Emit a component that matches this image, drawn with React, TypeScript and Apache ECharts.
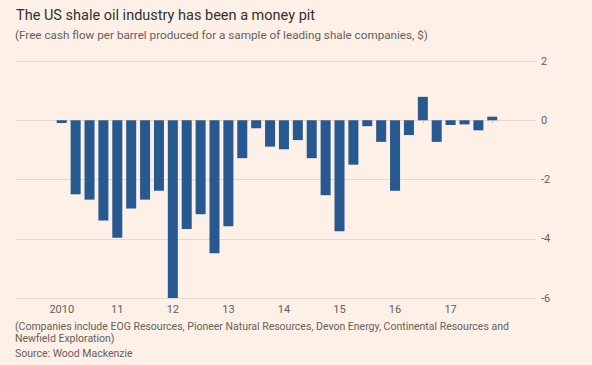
import React, { useEffect, useRef } from "react";
import * as echarts from "echarts";

const categories = [
  "2010 Q1","2010 Q2","2010 Q3","2010 Q4",
  "2011 Q1","2011 Q2","2011 Q3","2011 Q4",
  "2012 Q1","2012 Q2","2012 Q3","2012 Q4",
  "2013 Q1","2013 Q2","2013 Q3","2013 Q4",
  "2014 Q1","2014 Q2","2014 Q3","2014 Q4",
  "2015 Q1","2015 Q2","2015 Q3","2015 Q4",
  "2016 Q1","2016 Q2","2016 Q3","2016 Q4",
  "2017 Q1","2017 Q2","2017 Q3","2017 Q4",
];
const yearLabels = ["2010", "11", "12", "13", "14", "15", "16", "17"];
const freeCashFlow = [
  -0.09, -2.5, -2.68, -3.38,
  -3.97, -2.98, -2.68, -2.38,
  -6.0, -3.67, -3.17, -4.49,
  -3.58, -1.28, -0.27, -0.89,
  -0.98, -0.67, -1.28, -2.53,
  -3.75, -1.5, -0.2, -0.73,
  -2.38, -0.5, 0.79, -0.73,
  -0.16, -0.14, -0.34, 0.12,
];
const yTicks = { min: -6, max: 2, interval: 2 };

const titleText = "The US shale oil industry has been a money pit";
const subtitleText = "(Free cash flow per barrel produced for a sample of leading shale companies, $)";
const noteLines = [
  "(Companies include EOG Resources, Pioneer Natural Resources, Devon Energy, Continental Resources and",
  "Newfield Exploration)",
];
const sourceText = "Source: Wood Mackenzie";

export default function App() {
  const ref = useRef<HTMLDivElement>(null);
  useEffect(() => {
    if (!ref.current) return;
    const chart = echarts.init(ref.current, undefined, { renderer: "svg" });
    const font = "Roboto, 'Open Sans', sans-serif";
    const grey = "#66605c";
    chart.setOption({
      animation: false,
      backgroundColor: "#fdf0e6",
      textStyle: { fontFamily: font },
      grid: [
        { left: 16, right: 56, top: 61, height: 237 },
        { left: 54.8, width: 444.4, top: 61, height: 237 },
      ],
      xAxis: [
        { type: "value", gridIndex: 0, min: 0, max: 1, show: false },
        {
          type: "category",
          gridIndex: 1,
          data: categories,
          axisLine: { show: false },
          axisTick: {
            show: true,
            interval: 0,
            alignWithLabel: true,
            length: 3,
            lineStyle: { color: "#cfc6bd" },
          },
          axisLabel: {
            interval: 0,
            margin: 6,
            color: grey,
            fontSize: 11,
            fontFamily: font,
            formatter: (_v: string, i: number) => (i % 4 === 0 ? yearLabels[i / 4] : ""),
          },
        },
      ],
      yAxis: [
        {
          type: "value",
          gridIndex: 0,
          position: "right",
          min: yTicks.min,
          max: yTicks.max,
          interval: yTicks.interval,
          axisLine: { show: false },
          axisTick: { show: false },
          splitLine: { lineStyle: { color: "#e2d9d0", width: 1 } },
          axisLabel: { color: grey, fontSize: 11, margin: 5, align: "left", fontFamily: font },
        },
        {
          type: "value",
          gridIndex: 1,
          min: yTicks.min,
          max: yTicks.max,
          interval: yTicks.interval,
          show: false,
          splitLine: { show: false },
        },
      ],
      series: [
        {
          type: "bar",
          xAxisIndex: 1,
          yAxisIndex: 1,
          data: freeCashFlow,
          barWidth: 10,
          itemStyle: { color: "#285890" },
        },
      ],
      graphic: [
        {
          type: "text",
          left: 16,
          top: 8,
          style: { text: titleText, font: `14.5px ${font}`, fill: "#33302e" },
        },
        {
          type: "text",
          left: 15,
          top: 29,
          style: { text: subtitleText, font: `11.7px ${font}`, fill: grey },
        },
        {
          type: "text",
          left: 15,
          top: 321,
          style: { text: noteLines.join("\n"), font: `10.5px ${font}`, fill: grey, lineHeight: 11.5 },
        },
        {
          type: "text",
          left: 15,
          top: 348,
          style: { text: sourceText, font: `10.5px ${font}`, fill: grey },
        },
      ],
    });
    return () => chart.dispose();
  }, []);
  return <div ref={ref} style={{ width: 592, height: 365, position: "fixed", left: 0, top: 0 }} />;
}
